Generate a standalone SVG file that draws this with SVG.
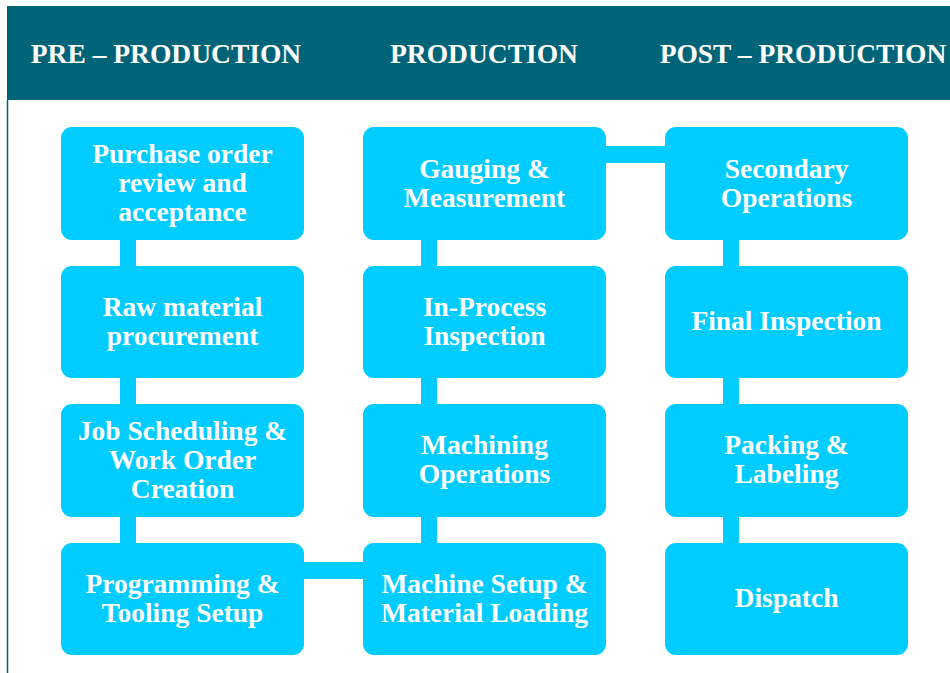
<svg xmlns="http://www.w3.org/2000/svg" width="950" height="673" viewBox="0 0 950 673">
<style>
.node{fill:#00CCFF}
.t{font-family:"Liberation Serif","Times New Roman",serif;font-weight:bold;font-size:27.5px;fill:#FFFFFF;text-anchor:middle}
.h{font-family:"Liberation Serif","Times New Roman",serif;font-weight:bold;font-size:27.5px;fill:#FFFFFF;text-anchor:middle}
.bar{fill:#00CCFF}
</style>
<rect x="0" y="0" width="950" height="673" fill="#FFFFFF"/>
<rect x="7" y="6" width="943" height="94" fill="#006479"/>
<line x1="7.5" y1="100" x2="7.5" y2="673" stroke="#006479" stroke-width="1.5"/>
<g id="headers">
<text class="h" x="166" y="63">PRE – PRODUCTION</text>
<text class="h" x="484" y="63">PRODUCTION</text>
<text class="h" x="803" y="63">POST – PRODUCTION</text>
</g>
<g id="connectors">
<rect class="bar" x="120" y="238" width="16" height="30"/>
<rect class="bar" x="120" y="376" width="16" height="30"/>
<rect class="bar" x="120" y="515" width="16" height="30"/>
<rect class="bar" x="302" y="562" width="63" height="17"/>
<rect class="bar" x="421" y="238" width="16" height="30"/>
<rect class="bar" x="421" y="376" width="16" height="30"/>
<rect class="bar" x="421" y="515" width="16" height="30"/>
<rect class="bar" x="604" y="146" width="63" height="17"/>
<rect class="bar" x="723" y="238" width="16" height="30"/>
<rect class="bar" x="723" y="376" width="16" height="30"/>
<rect class="bar" x="723" y="515" width="16" height="30"/>
</g>
<g id="n1"><rect class="node" x="61" y="127" width="243" height="113" rx="11"/>
<text class="t" x="182.5" y="163">Purchase order</text><text class="t" x="182.5" y="192">review and</text><text class="t" x="182.5" y="221">acceptance</text></g>
<g id="n2"><rect class="node" x="61" y="266" width="243" height="112" rx="11"/>
<text class="t" x="182.5" y="316">Raw material</text><text class="t" x="182.5" y="345">procurement</text></g>
<g id="n3"><rect class="node" x="61" y="404" width="243" height="113" rx="11"/>
<text class="t" x="182.5" y="440">Job Scheduling &amp;</text><text class="t" x="182.5" y="469">Work Order</text><text class="t" x="182.5" y="498">Creation</text></g>
<g id="n4"><rect class="node" x="61" y="543" width="243" height="112" rx="11"/>
<text class="t" x="182.5" y="593">Programming &amp;</text><text class="t" x="182.5" y="622">Tooling Setup</text></g>
<g id="n5"><rect class="node" x="363" y="127" width="243" height="113" rx="11"/>
<text class="t" x="484.5" y="178">Gauging &amp;</text><text class="t" x="484.5" y="207">Measurement</text></g>
<g id="n6"><rect class="node" x="363" y="266" width="243" height="112" rx="11"/>
<text class="t" x="484.5" y="316">In-Process</text><text class="t" x="484.5" y="345">Inspection</text></g>
<g id="n7"><rect class="node" x="363" y="404" width="243" height="113" rx="11"/>
<text class="t" x="484.5" y="454">Machining</text><text class="t" x="484.5" y="483">Operations</text></g>
<g id="n8"><rect class="node" x="363" y="543" width="243" height="112" rx="11"/>
<text class="t" x="484.5" y="593">Machine Setup &amp;</text><text class="t" x="484.5" y="622">Material Loading</text></g>
<g id="n9"><rect class="node" x="665" y="127" width="243" height="113" rx="11"/>
<text class="t" x="786.5" y="178">Secondary</text><text class="t" x="786.5" y="207">Operations</text></g>
<g id="n10"><rect class="node" x="665" y="266" width="243" height="112" rx="11"/>
<text class="t" x="786.5" y="330">Final Inspection</text></g>
<g id="n11"><rect class="node" x="665" y="404" width="243" height="113" rx="11"/>
<text class="t" x="786.5" y="454">Packing &amp;</text><text class="t" x="786.5" y="483">Labeling</text></g>
<g id="n12"><rect class="node" x="665" y="543" width="243" height="112" rx="11"/>
<text class="t" x="786.5" y="607">Dispatch</text></g>
</svg>
